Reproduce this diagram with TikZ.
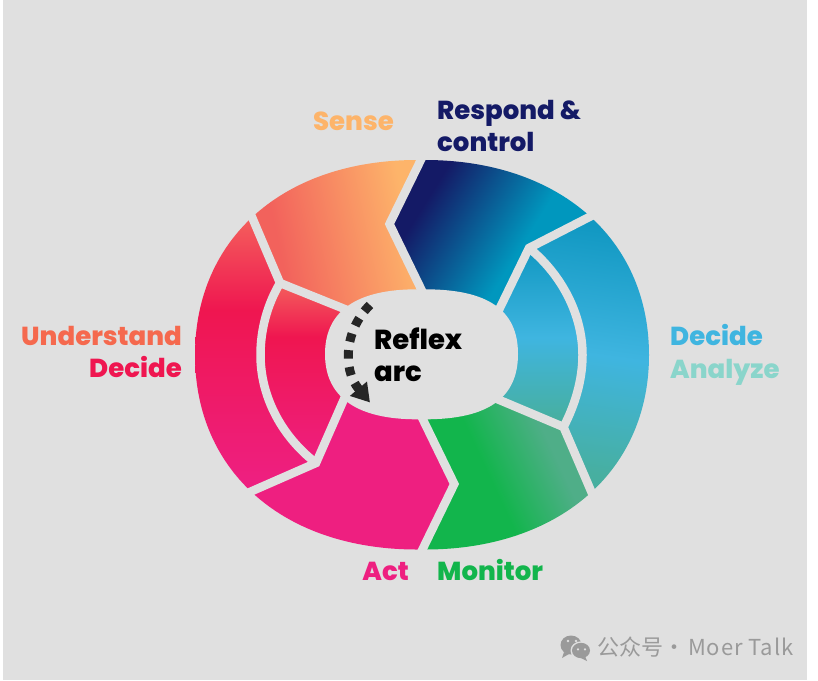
\documentclass[tikz,border=0pt]{standalone}
\usepackage{fontspec}
\setmainfont[BoldFont={Poppins ExtraBold}]{Poppins}
\newfontfamily\wmfont{Noto Sans CJK SC}
\usepackage{xcolor}
\usetikzlibrary{arrows.meta}
\definecolor{PanelGray}{HTML}{E0E0E0}
\definecolor{SenseOrange}{HTML}{FDB46A}
\definecolor{SenseCoral}{HTML}{F2625C}
\definecolor{RespondNavy}{HTML}{141A66}
\definecolor{RespondTeal}{HTML}{0097BE}
\definecolor{DecideTeal}{HTML}{1198C2}
\definecolor{DecideBlue}{HTML}{3FB5E0}
\definecolor{AnalyzeTeal}{HTML}{47AFA0}
\definecolor{MonitorGreen}{HTML}{12B54C}
\definecolor{MonitorSage}{HTML}{4FAE88}
\definecolor{ActPink}{HTML}{EE1F80}
\definecolor{DecideRed}{HTML}{EF1650}
\definecolor{RedTop}{HTML}{F4605C}
\definecolor{AnalyzeMint}{HTML}{8AD5CB}
\definecolor{UnderstandOrange}{HTML}{F5694E}
\definecolor{MarkGray}{HTML}{9A9A9A}
\pgfdeclarehorizontalshading{senseshade}{100bp}{color(0bp)=(SenseCoral); color(32bp)=(SenseCoral); color(72bp)=(SenseOrange); color(100bp)=(SenseOrange)}
\pgfdeclarehorizontalshading{respondshade}{100bp}{color(0bp)=(RespondNavy); color(30bp)=(RespondNavy); color(59bp)=(RespondTeal); color(100bp)=(RespondTeal)}
\pgfdeclarehorizontalshading{monitorshade}{100bp}{color(0bp)=(MonitorGreen); color(45bp)=(MonitorGreen); color(66bp)=(MonitorSage); color(100bp)=(MonitorSage)}
\pgfdeclareverticalshading{redshade}{100bp}{color(0bp)=(ActPink); color(27bp)=(ActPink); color(58bp)=(DecideRed); color(75bp)=(RedTop); color(100bp)=(RedTop)}
\pgfdeclareverticalshading{inredshade}{100bp}{color(0bp)=(ActPink); color(25bp)=(ActPink); color(60bp)=(DecideRed); color(75bp)=(RedTop); color(100bp)=(RedTop)}
\pgfdeclareverticalshading{decideshade}{100bp}{color(0bp)=(AnalyzeTeal); color(27bp)=(AnalyzeTeal); color(50bp)=(DecideBlue); color(75bp)=(DecideTeal); color(100bp)=(DecideTeal)}

\begin{document}
\begin{tikzpicture}[
    x=1pt,
    y=-1pt,
    gapline/.style={
        draw=PanelGray,
        line width=8.5pt,
        miter limit=20
    },
    ringtext/.style={
        inner sep=0pt,
        font=\fontsize{26}{30}\selectfont\bfseries
    },
    hubtext/.style={
        inner sep=0pt,
        text=black,
        font=\fontsize{27.5}{30}\selectfont\bfseries
    },
    marktext/.style={
        inner sep=0pt,
        text=MarkGray,
        font=\fontsize{22}{24}\selectfont\wmfont
    }
]

\useasboundingbox (0,0) rectangle (818,680);
\fill[PanelGray] (3,0) rectangle (807,680);

% the coloured ring
\begin{scope}
\clip (417,160) .. controls (284,160) and (195,238) .. (195,355)
    .. controls (195,472) and (284,549.5) .. (417,549.5)
    -- (425,549.5) .. controls (558,549.5) and (649,472) .. (649,355)
    .. controls (649,238) and (558,160) .. (425,160) -- cycle;

\shade[shading=senseshade, shading angle=12]
    (252,217) -- (252,160) -- (421,160) -- (389.5,224) -- (421,289)
    -- (343,308) -- (280,284) -- cycle;
\shade[shading=respondshade, shading angle=-32]
    (421,160) -- (591,160) -- (591,216) -- (529,248) -- (499.5,309)
    -- (421,289) -- (389.5,224) -- cycle;
\shade[shading=decideshade, shading angle=-8]
    (591,216) -- (649,216) -- (649,491) -- (591,491) -- (563,428)
    -- (520,355) -- (529,250) -- cycle;
\shade[shading=decideshade]
    (529,248) .. controls (562,275) and (582.5,315) .. (582.5,355)
    .. controls (582.5,380) and (575,405) .. (563.5,427)
    -- (499,399) -- (480,354) -- (499,309) -- cycle;
\shade[shading=monitorshade, shading angle=25]
    (422,549.5) -- (591,549.5) -- (591,491) -- (563,428) -- (499,400)
    -- (422,419) -- (454,484) -- cycle;
\fill[ActPink]
    (252,491) -- (252,549.5) -- (422,549.5) -- (454,484) -- (422,419)
    -- (344,400) -- (316,463) -- cycle;
\shade[shading=redshade]
    (252,217) -- (195,217) -- (195,491) -- (252,491) -- (316,462)
    -- (345,400) -- (345,308) -- (280,284) -- cycle;
\shade[shading=inredshade]
    (280,283) .. controls (267,305) and (260.5,330) .. (260.5,355)
    .. controls (260.5,395) and (280,435) .. (316,463)
    -- (344,400) -- (345,354) -- (343,308) -- cycle;
\end{scope}

% gaps between the segments
\draw[gapline] (424,153.5) -- (389.5,224) -- (424,295);
\draw[gapline] (419.5,412.5) -- (454.3,484) -- (419.5,555.5);
\draw[gapline] (600,211.5) -- (529,248) -- (495,318);
\draw[gapline] (594,498) -- (563.5,427) -- (490,396);
\draw[gapline] (246,203) -- (280,283) -- (352,312);
\draw[gapline] (243,495) -- (316,463) -- (348,390);
\draw[gapline] (280,283) .. controls (267,305) and (260.5,330) .. (260.5,355)
    .. controls (260.5,395) and (280,435) .. (316,463);
\draw[gapline] (529,248) .. controls (562,275) and (582.5,315) .. (582.5,355)
    .. controls (582.5,380) and (575,405) .. (563.5,427);

% centre opening
\fill[PanelGray] (417,289.3) .. controls (358,289.3) and (325,310) .. (325,354)
    .. controls (325,398) and (358,419.3) .. (417,419.3)
    -- (425,419.3) .. controls (488,419.3) and (518,398) .. (518,354)
    .. controls (518,310) and (488,289.3) .. (425,289.3) -- cycle;

\coordinate (arcstart) at (370,305);
\coordinate (arcend) at (370,402.5);
\draw[line width=9pt, draw=black!85, dash pattern=on 8.5pt off 8.5pt,
    -{Triangle[length=18pt, width=21pt]}]
    (arcstart) .. controls (346,328) and (341,368) .. (arcend);

\node[hubtext, anchor=base west] (reflex) at (374,349) {Reflex};
\node[hubtext, anchor=base west] (arc) at (374,381) {arc};

\node[ringtext, anchor=base east, text=SenseOrange] (sense) at (394,130) {Sense};
\node[ringtext, anchor=base west, text=RespondNavy] (respond) at (437,119) {Respond \&};
\node[ringtext, anchor=base west, text=RespondNavy] (control) at (437,151) {control};
\node[ringtext, anchor=base east, text=UnderstandOrange] (understand) at (182,345) {Understand};
\node[ringtext, anchor=base east, text=DecideRed] (decidered) at (182,377) {Decide};
\node[ringtext, anchor=base west, text=DecideBlue] (decideblue) at (670,345) {Decide};
\node[ringtext, anchor=base west, text=AnalyzeMint] (analyze) at (670,378) {Analyze};
\node[ringtext, anchor=base east, text=ActPink] (act) at (409,580) {Act};
\node[ringtext, anchor=base west, text=MonitorGreen] (monitor) at (437,580) {Monitor};

% channel mark in the corner
\fill[MarkGray] (571,645) ellipse (10.5pt and 9.5pt);
\fill[MarkGray] (564,652) -- (562,658) -- (569,654) -- cycle;
\fill[PanelGray] (581,650.5) ellipse (10.5pt and 9.2pt);
\fill[MarkGray] (581,650.5) ellipse (9pt and 7.7pt);
\fill[MarkGray] (585,656) -- (587,661) -- (580,657.5) -- cycle;
\fill[PanelGray] (568,641) circle (1.4pt) (576,641) circle (1.4pt)
    (578,649.3) circle (1.2pt) (585,649.3) circle (1.2pt);
\node[marktext, anchor=base west] (channel) at (597,655) {公众号};
\node[marktext, anchor=base] (channeldot) at (674,655) {·};
\node[marktext, anchor=base west] (channelname) at (688,655) {\addfontfeature{LetterSpace=4}Moer Talk};

\end{tikzpicture}
\end{document}
